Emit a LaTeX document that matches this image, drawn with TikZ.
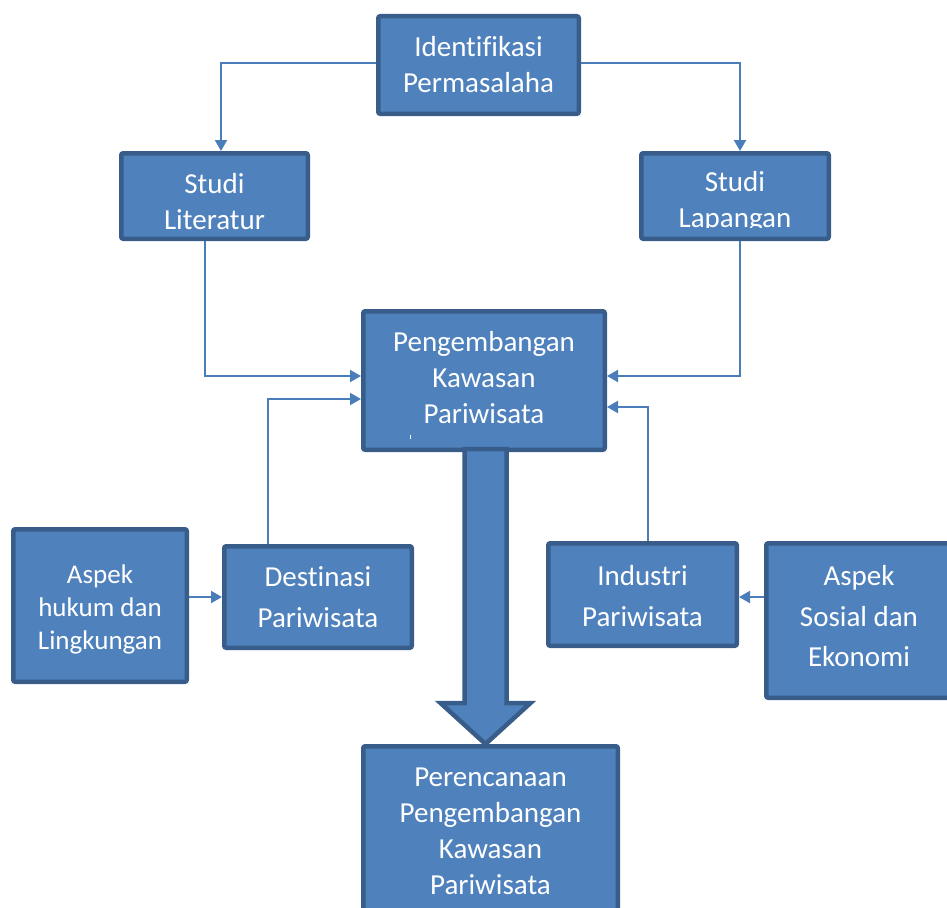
\documentclass[tikz,border=0pt]{standalone}
\usepackage{fontspec}
\setmainfont{Carlito}[Ligatures=NoCommon]
\usetikzlibrary{arrows.meta,calc}
\definecolor{boxfill}{HTML}{4F81BD}
\definecolor{boxline}{HTML}{385D8A}
\definecolor{wire}{HTML}{4A7EBB}
\begin{document}
\begin{tikzpicture}[x=1pt,y=-1pt,
  box/.style={draw=boxline, fill=boxfill, line width=4.5pt, rounded corners=2pt, inner sep=0pt},
  lbl/.style={text=white, align=center, inner sep=0pt, font=\fontsize{29}{36}\selectfont},
  widelbl/.style={lbl, font=\fontsize{29}{40.5}\selectfont},
  smalllbl/.style={lbl, font=\fontsize{27}{33}\selectfont},
  conn/.style={draw=wire, line width=2pt, -{Triangle[length=11pt,width=12pt]}},
  bigarrow/.style={draw=boxline, fill=boxfill, line width=4.5pt, line join=miter}]
\useasboundingbox (0,0) rectangle (947,907);
\clip (0,0) rectangle (947,907);

% top row
\node[box, minimum width=200.5pt, minimum height=97.5pt] (ident) at (478.5,65) {};
\node[lbl] (identText) at (ident.center) {Identifikasi\\Permasalaha};
\node[box, minimum width=186.5pt, minimum height=85.5pt] (lit) at (214.5,196) {};
\node[lbl] (litText) at ([yshift=-6pt]lit.center) {Studi\\Literatur};
\node[box, minimum width=187.5pt, minimum height=85.5pt] (lap) at (735,196) {};
\begin{scope}
  \clip (639,151) rectangle (831,227);
  \node[lbl] (lapText) at ([yshift=-6pt]lap.center) {Studi\\Lapangan};
\end{scope}

% centre
\node[box, minimum width=241.5pt, minimum height=138.5pt] (peng) at (484,380.5) {};
\node[lbl] (pengText) at ([yshift=3pt]peng.center) {Pengembangan\\Kawasan\\Pariwisata};
\draw[white, line width=1pt] (410,435) -- (410,439);

% side inputs
\node[box, minimum width=173.5pt, minimum height=152.5pt] (hukum) at (100,605.5) {};
\node[smalllbl] (hukumText) at ([yshift=-4pt]hukum.center) {Aspek\\hukum dan\\Lingkungan};
\node[box, minimum width=187.5pt, minimum height=101.5pt] (dest) at (318,597) {};
\node[widelbl] (destText) at (dest.center) {Destinasi\\Pariwisata};
\node[box, minimum width=188.5pt, minimum height=102.5pt] (ind) at (642.5,594.5) {};
\node[widelbl] (indText) at ([yshift=-1.5pt]ind.center) {Industri\\Pariwisata};
\node[box, minimum width=185.5pt, minimum height=154.5pt] (sos) at (859,620.5) {};
\node[widelbl] (sosText) at ([yshift=4pt]sos.center) {Aspek\\Sosial dan\\Ekonomi};

% block arrow down to the planning box
\draw[bigarrow] (464.5,449) -- (506.5,449) -- (506.5,703) -- (530.5,703)
  -- (485.5,744) -- (440.5,703) -- (464.5,703) -- cycle;

\node[box, minimum width=254.5pt, minimum height=169.5pt] (per) at (490.5,831) {};
\node[lbl] (perText) at (per.center) {Perencanaan\\Pengembangan\\Kawasan\\Pariwisata};

% connectors
\draw[conn] ([yshift=2pt]ident.west) -| ([xshift=6.5pt]lit.north);
\draw[conn] ([yshift=2pt]ident.east) -| ([xshift=5pt]lap.north);
\draw[conn] ([xshift=-9.5pt]lit.south) |- ([yshift=4.5pt]peng.west);
\draw[conn] ([xshift=5pt]lap.south) |- ([yshift=4.5pt]peng.east);
\draw[conn] ([xshift=-50pt]dest.north) |- ([yshift=-18.5pt]peng.west);
\draw[conn] ([xshift=5.5pt]ind.north) |- ([yshift=-26.5pt]peng.east);
\draw[conn] ([yshift=8.5pt]hukum.east) -- (dest.west);
\draw[conn] ([yshift=23.5pt]sos.west) -- ([yshift=-2.5pt]ind.east);
\end{tikzpicture}
\end{document}
